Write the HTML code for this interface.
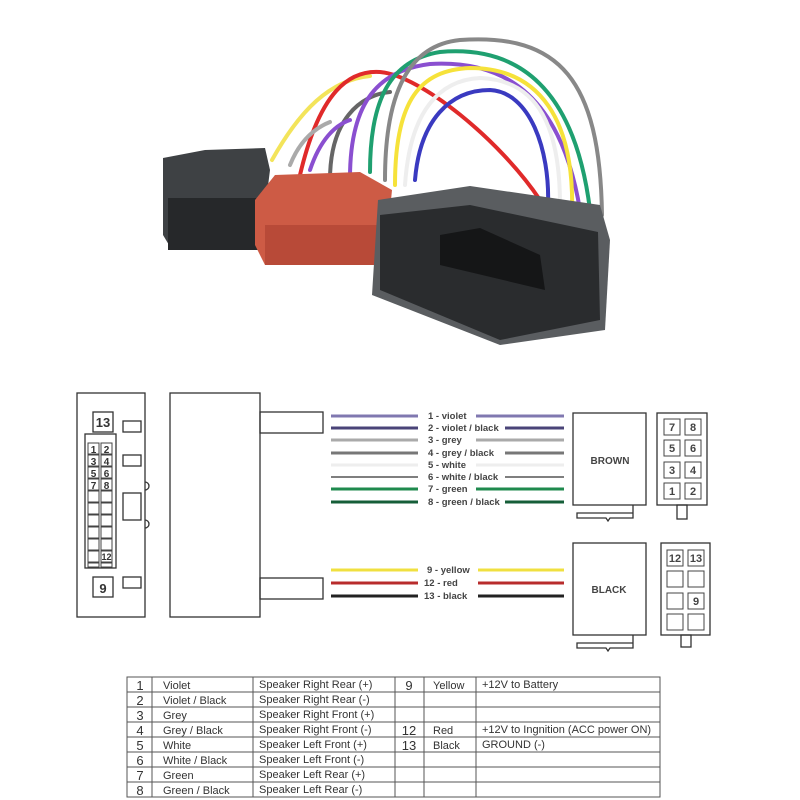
<!DOCTYPE html>
<html><head><meta charset="utf-8"><style>
body{margin:0;background:#fff;width:800px;height:800px;overflow:hidden;font-family:"Liberation Sans",Arial,sans-serif}
svg{position:absolute;left:0;top:0}
</style></head><body>
<svg width="800" height="800" viewBox="0 0 800 800" xmlns="http://www.w3.org/2000/svg" font-family="Liberation Sans, Arial, sans-serif">
<!-- PHOTO -->
<g fill="none" stroke-linecap="round" stroke-width="4">
<path d="M272 160 C 300 110, 330 80, 370 76" stroke="#f3e45a"/>
<path d="M300 175 C 320 90, 350 70, 380 72 C 420 75, 500 140, 540 200" stroke="#e02a2a"/>
<path d="M330 180 C 330 120, 360 95, 390 92" stroke="#666"/>
<path d="M350 178 C 350 100, 380 70, 430 64 C 500 60, 560 90, 580 210" stroke="#8a4fd0"/>
<path d="M370 172 C 370 100, 390 60, 440 52 C 520 45, 575 90, 590 210" stroke="#1fa070"/>
<path d="M385 180 C 385 90, 410 45, 460 40 C 560 33, 600 80, 602 215" stroke="#888"/>
<path d="M395 185 C 395 100, 420 70, 470 68 C 540 68, 575 120, 572 215" stroke="#f6e23a"/>
<path d="M405 185 C 410 110, 440 80, 480 78 C 540 80, 560 130, 560 205" stroke="#eeeeee"/>
<path d="M415 180 C 420 120, 450 90, 490 90 C 530 92, 550 150, 548 205" stroke="#3a3ac0"/>
<path d="M310 170 C 320 140, 335 125, 350 120" stroke="#8a4fd0"/>
<path d="M290 165 C 300 140, 315 128, 330 122" stroke="#aaa"/>
</g>
<path d="M163 158 L205 150 L265 148 L270 170 L260 250 L172 250 L163 235 Z" fill="#3e4144"/>
<rect x="168" y="198" width="90" height="52" fill="#26282a"/>
<path d="M255 200 L275 175 L360 172 L392 190 L385 262 L265 265 L255 245 Z" fill="#cd5b45"/>
<rect x="265" y="225" width="120" height="40" fill="#b84a38"/>
<path d="M378 200 L470 186 L600 205 L610 240 L605 330 L500 345 L372 295 Z" fill="#5a5d60"/>
<path d="M380 215 L470 205 L598 232 L600 320 L500 340 L380 290 Z" fill="#2a2c2e"/>
<path d="M440 235 L480 228 L540 255 L545 290 L440 265 Z" fill="#151617"/>

<!-- DIAGRAM LEFT -->
<g fill="none" stroke="#333" stroke-width="1.3">
<rect x="77" y="393" width="68" height="224"/>
<rect x="93" y="412" width="20" height="20"/>
<rect x="85" y="434" width="31" height="134"/>
<rect x="93" y="577" width="20" height="20"/>
<rect x="123" y="421" width="18" height="11"/>
<rect x="123" y="455" width="18" height="11"/>
<rect x="123" y="493" width="18" height="27"/>
<rect x="123" y="577" width="18" height="11"/>
<path d="M145 482 a4 4 0 0 1 0 8 M145 520 a4 4 0 0 1 0 8" stroke="#333"/>
<rect x="170" y="393" width="90" height="224"/>
<rect x="260" y="412" width="63" height="21"/>
<rect x="260" y="578" width="63" height="21"/>
</g>
<g fill="none" stroke="#444" stroke-width="1">
<rect x="88" y="443" width="11" height="11"/><rect x="101" y="443" width="11" height="11"/>
<rect x="88" y="455" width="11" height="11"/><rect x="101" y="455" width="11" height="11"/>
<rect x="88" y="467" width="11" height="11"/><rect x="101" y="467" width="11" height="11"/>
<rect x="88" y="479" width="11" height="11"/><rect x="101" y="479" width="11" height="11"/>
<rect x="88" y="491" width="11" height="11"/><rect x="101" y="491" width="11" height="11"/>
<rect x="88" y="503" width="11" height="11"/><rect x="101" y="503" width="11" height="11"/>
<rect x="88" y="515" width="11" height="11"/><rect x="101" y="515" width="11" height="11"/>
<rect x="88" y="527" width="11" height="11"/><rect x="101" y="527" width="11" height="11"/>
<rect x="88" y="539" width="11" height="11"/><rect x="101" y="539" width="11" height="11"/>
<rect x="88" y="551" width="11" height="11"/><rect x="101" y="551" width="11" height="11"/>
<rect x="88" y="563" width="11" height="4"/><rect x="101" y="563" width="11" height="4"/>
</g>
<g font-size="10" font-weight="bold" fill="#333" text-anchor="middle">
<text x="103" y="427" font-size="13">13</text>
<text x="103" y="593" font-size="13">9</text>
<text x="93.5" y="453">1</text><text x="106.5" y="453">2</text>
<text x="93.5" y="465">3</text><text x="106.5" y="465">4</text>
<text x="93.5" y="477">5</text><text x="106.5" y="477">6</text>
<text x="93.5" y="489">7</text><text x="106.5" y="489">8</text>
<text x="106.5" y="560" font-size="9">12</text>
</g>

<!-- WIRES -->
<g stroke-width="3">
<line x1="331" y1="416" x2="418" y2="416" stroke="#8078b0"/><line x1="476" y1="416" x2="564" y2="416" stroke="#8078b0"/>
<line x1="331" y1="428" x2="418" y2="428" stroke="#4a4478"/><line x1="505" y1="428" x2="564" y2="428" stroke="#4a4478"/>
<line x1="331" y1="440" x2="418" y2="440" stroke="#aaa"/><line x1="476" y1="440" x2="564" y2="440" stroke="#aaa"/>
<line x1="331" y1="453" x2="418" y2="453" stroke="#777"/><line x1="505" y1="453" x2="564" y2="453" stroke="#777"/>
<line x1="331" y1="465" x2="418" y2="465" stroke="#eee"/><line x1="476" y1="465" x2="564" y2="465" stroke="#eee"/>
<line x1="331" y1="477" x2="418" y2="477" stroke="#333" stroke-width="1.3"/><line x1="505" y1="477" x2="564" y2="477" stroke="#333" stroke-width="1.3"/>
<line x1="331" y1="489" x2="418" y2="489" stroke="#1f8a4e"/><line x1="476" y1="489" x2="564" y2="489" stroke="#1f8a4e"/>
<line x1="331" y1="502" x2="418" y2="502" stroke="#155e38"/><line x1="505" y1="502" x2="564" y2="502" stroke="#155e38"/>
<line x1="331" y1="570" x2="418" y2="570" stroke="#f0e040"/><line x1="478" y1="570" x2="564" y2="570" stroke="#f0e040"/>
<line x1="331" y1="583" x2="418" y2="583" stroke="#b82c2c"/><line x1="478" y1="583" x2="564" y2="583" stroke="#b82c2c"/>
<line x1="331" y1="596" x2="418" y2="596" stroke="#222"/><line x1="478" y1="596" x2="564" y2="596" stroke="#222"/>
</g>
<g font-size="9.5" font-weight="bold" fill="#444">
<text x="428" y="419">1 - violet</text>
<text x="428" y="431">2 - violet / black</text>
<text x="428" y="443">3 - grey</text>
<text x="428" y="456">4 - grey / black</text>
<text x="428" y="468">5 - white</text>
<text x="428" y="480">6 - white / black</text>
<text x="428" y="492">7 - green</text>
<text x="428" y="505">8 - green / black</text>
<text x="427" y="573">9 - yellow</text>
<text x="424" y="586">12 - red</text>
<text x="424" y="599">13 - black</text>
</g>

<!-- RIGHT CONNECTORS -->
<g fill="none" stroke="#333" stroke-width="1.3">
<rect x="573" y="413" width="73" height="92"/>
<path d="M633 505 V518 H610 L608 521 L606 518 H577 V513 H633"/>
<rect x="657" y="413" width="50" height="92"/>
<rect x="677" y="505" width="10" height="14"/>
<rect x="573" y="543" width="73" height="92"/>
<path d="M633 635 V648 H610 L608 651 L606 648 H577 V643 H633"/>
<rect x="661" y="543" width="49" height="92"/>
<rect x="681" y="635" width="10" height="12"/>
</g>
<g fill="none" stroke="#444" stroke-width="1">
<rect x="664" y="419" width="16" height="16"/><rect x="685" y="419" width="16" height="16"/>
<rect x="664" y="440" width="16" height="16"/><rect x="685" y="440" width="16" height="16"/>
<rect x="664" y="462" width="16" height="16"/><rect x="685" y="462" width="16" height="16"/>
<rect x="664" y="483" width="16" height="16"/><rect x="685" y="483" width="16" height="16"/>
<rect x="667" y="550" width="16" height="16"/><rect x="688" y="550" width="16" height="16"/>
<rect x="667" y="571" width="16" height="16"/><rect x="688" y="571" width="16" height="16"/>
<rect x="667" y="593" width="16" height="16"/><rect x="688" y="593" width="16" height="16"/>
<rect x="667" y="614" width="16" height="16"/><rect x="688" y="614" width="16" height="16"/>
</g>
<g font-size="11" font-weight="bold" fill="#444" text-anchor="middle">
<text x="610" y="464" font-size="10">BROWN</text>
<text x="609" y="593" font-size="10">BLACK</text>
<text x="672" y="431">7</text><text x="693" y="431">8</text>
<text x="672" y="452">5</text><text x="693" y="452">6</text>
<text x="672" y="474">3</text><text x="693" y="474">4</text>
<text x="672" y="495">1</text><text x="693" y="495">2</text>
<text x="675" y="562">12</text><text x="696" y="562">13</text>
<text x="696" y="605">9</text>
</g>

<!-- TABLE -->
<g stroke="#555" stroke-width="1" fill="none">
<rect x="127" y="677" width="533" height="120"/>
<line x1="152" y1="677" x2="152" y2="797"/><line x1="253" y1="677" x2="253" y2="797"/>
<line x1="395" y1="677" x2="395" y2="797"/><line x1="424" y1="677" x2="424" y2="797"/>
<line x1="476" y1="677" x2="476" y2="797"/>
<line x1="127" y1="692" x2="660" y2="692"/><line x1="127" y1="707" x2="660" y2="707"/>
<line x1="127" y1="722" x2="660" y2="722"/><line x1="127" y1="737" x2="660" y2="737"/>
<line x1="127" y1="752" x2="660" y2="752"/><line x1="127" y1="767" x2="660" y2="767"/>
<line x1="127" y1="782" x2="660" y2="782"/>
</g>
<g font-size="11" fill="#333">
<g text-anchor="middle" font-size="13"><text x="140" y="690">1</text><text x="140" y="705">2</text><text x="140" y="720">3</text><text x="140" y="735">4</text><text x="140" y="750">5</text><text x="140" y="765">6</text><text x="140" y="780">7</text><text x="140" y="795">8</text>
<text x="409" y="690">9</text><text x="409" y="735">12</text><text x="409" y="750">13</text></g>
<text x="163" y="689">Violet</text><text x="163" y="704">Violet / Black</text><text x="163" y="719">Grey</text><text x="163" y="734">Grey / Black</text><text x="163" y="749">White</text><text x="163" y="764">White / Black</text><text x="163" y="779">Green</text><text x="163" y="794">Green / Black</text>
<text x="259" y="688">Speaker Right Rear (+)</text><text x="259" y="703">Speaker Right Rear (-)</text><text x="259" y="718">Speaker Right Front (+)</text><text x="259" y="733">Speaker Right Front (-)</text><text x="259" y="748">Speaker Left Front (+)</text><text x="259" y="763">Speaker Left Front (-)</text><text x="259" y="778">Speaker Left Rear (+)</text><text x="259" y="793">Speaker Left Rear (-)</text>
<text x="433" y="689">Yellow</text><text x="433" y="734">Red</text><text x="433" y="749">Black</text>
<text x="482" y="688">+12V to Battery</text><text x="482" y="733">+12V to Ingnition (ACC power ON)</text><text x="482" y="748">GROUND (-)</text>
</g>
</svg>
</body></html>
